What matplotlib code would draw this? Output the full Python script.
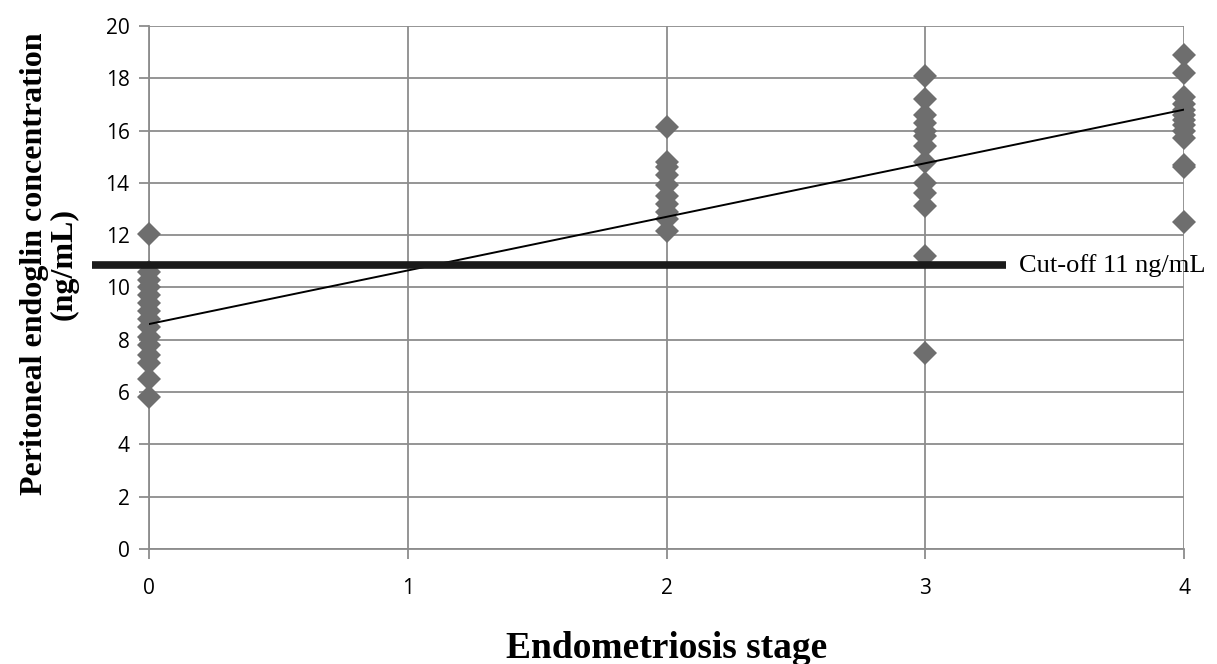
import matplotlib.pyplot as plt
import numpy as np

# endoglin concentration (ng/mL) by endometriosis stage
stage0 = [12.05, 10.6, 10.3, 10.0, 9.7, 9.4, 9.1, 8.8, 8.5, 8.1, 7.8, 7.4, 7.1, 6.5, 5.8]
stage2 = [16.15, 14.8, 14.6, 14.3, 13.9, 13.5, 13.2, 12.9, 12.6, 12.15]
stage3 = [18.1, 17.2, 16.6, 16.3, 16.0, 15.8, 15.4, 14.8, 14.0, 13.6, 13.1, 11.2, 7.5]
stage4 = [18.9, 18.2, 17.3, 17.0, 16.8, 16.6, 16.4, 16.2, 16.0, 15.7, 14.7, 14.6, 12.5]
stages = [0, 2, 3, 4]

# linear trend as shown in the chart
trend_intercept = 8.6
trend_slope = 2.05

cutoff = 10.85
cutoff_label = 'Cut-off 11 ng/mL'

fig = plt.figure(figsize=(12.17, 6.64), dpi=100)
ax = fig.add_axes([0.1224, 0.1732, 0.8506, 0.7878])

grey = '#8c8c8c'
for s, vals in zip(stages, [stage0, stage2, stage3, stage4]):
    ax.plot([s] * len(vals), vals, 'D', color='#6e6e6e', markersize=12,
            markeredgewidth=0, zorder=3, clip_on=False)

xs = np.array([0, 4])
ax.plot(xs, trend_intercept + trend_slope * xs, color='black', lw=1.4, zorder=4)

ax.plot([-0.22, 3.31], [cutoff, cutoff], color='#1a1a1a', lw=5.5,
        solid_capstyle='butt', zorder=5, clip_on=False)
ax.text(3.36, cutoff, cutoff_label, fontsize=19, family='Liberation Serif',
        va='center', ha='left')

ax.set_xlim(0, 4)
ax.set_ylim(0, 20)
ax.set_xticks(range(5))
ax.set_yticks(range(0, 21, 2))
ax.grid(True, color=grey, lw=1.3)
ax.set_axisbelow(True)
for side in ['top', 'right']:
    ax.spines[side].set_visible(False)
for side in ['left', 'bottom']:
    ax.spines[side].set_color(grey)
    ax.spines[side].set_linewidth(1.3)
ax.tick_params(colors=grey, labelcolor='black', length=7, width=1.3,
               labelsize=15)
for lab in ax.get_xticklabels() + ax.get_yticklabels():
    lab.set_family('Open Sans')
ax.tick_params(axis='x', pad=14)
ax.tick_params(axis='y', pad=7)

ax.set_xlabel('Endometriosis stage', fontsize=27, family='Liberation Serif',
              fontweight='bold', labelpad=23)
ax.set_ylabel('Peritoneal endoglin concentration\n(ng/mL)', fontsize=23,
              family='Liberation Serif', fontweight='bold', linespacing=1.0)
ax.yaxis.set_label_coords(-0.068, 0.545)

fig.savefig('out.png', dpi=100)
